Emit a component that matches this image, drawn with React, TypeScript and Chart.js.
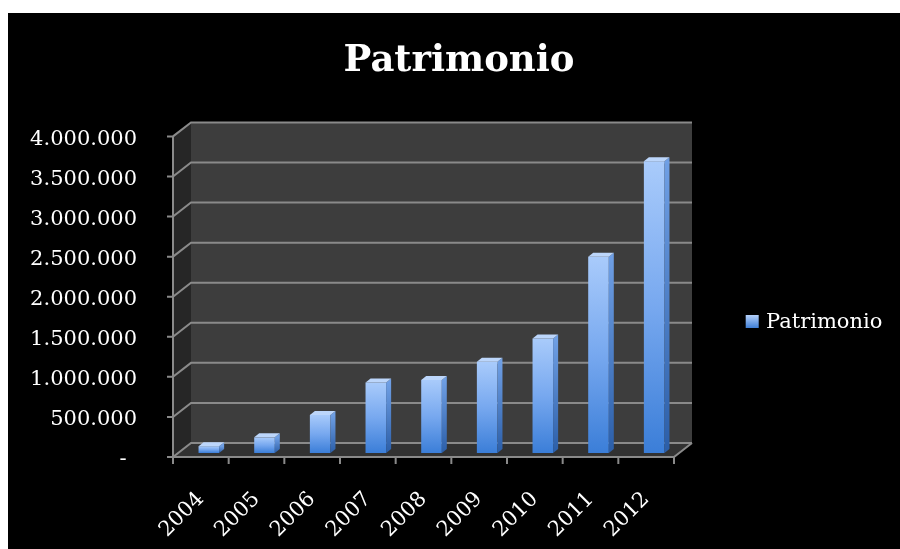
import React, { useEffect, useRef } from 'react';
import { Chart, registerables } from 'chart.js';

Chart.register(...registerables);

// ---- data ----
const years = ['2004', '2005', '2006', '2007', '2008', '2009', '2010', '2011', '2012'];
const patrimonio = [85000, 195000, 475000, 880000, 910000, 1140000, 1430000, 2450000, 3640000];
const seriesLabel = 'Patrimonio';
const chartTitle = 'Patrimonio';
const yMin = 0;
const yMax = 4000000;
const yStep = 500000;

// ---- styling ----
const FONT = 'DejaVu Serif';
const DX = 18; // depth of plot box
const DY = 14;
const SHIFT_X = 8; // bars sit inside the box depth
const SHIFT_Y = -4;
const BDX = 5; // bar depth
const BDY = 4;

const fmt = (v: number) => {
  if (v === 0) return '-\u2002';
  return String(v).replace(/\B(?=(\d{3})+(?!\d))/g, '.');
};

function poly(ctx: CanvasRenderingContext2D, pts: number[][], fill: any) {
  ctx.beginPath();
  ctx.moveTo(pts[0][0], pts[0][1]);
  for (let i = 1; i < pts.length; i++) ctx.lineTo(pts[i][0], pts[i][1]);
  ctx.closePath();
  ctx.fillStyle = fill;
  ctx.fill();
}

const box3d = {
  id: 'box3d',
  beforeDatasetsDraw(chart: any) {
    const { ctx, chartArea: a, scales } = chart;
    const ys = scales.y;
    const xs = scales.x;
    const L = a.left, R = a.right, T = a.top, B = a.bottom;
    ctx.save();
    // side wall
    poly(ctx, [[L, T], [L + DX, T - DY], [L + DX, B - DY], [L, B]], '#262626');
    // back wall
    poly(ctx, [[L + DX, T - DY], [R + DX, T - DY], [R + DX, B - DY], [L + DX, B - DY]], '#3d3d3d');
    // floor
    poly(ctx, [[L, B], [R, B], [R + DX, B - DY], [L + DX, B - DY]], '#323232');

    ctx.strokeStyle = '#8a8a8a';
    ctx.lineWidth = 2;
    ctx.lineCap = 'butt';
    ys.ticks.forEach((t: any) => {
      const py = ys.getPixelForValue(t.value);
      ctx.beginPath();
      ctx.moveTo(L - 6, py);
      ctx.lineTo(L, py);
      ctx.lineTo(L + DX, py - DY);
      ctx.lineTo(R + DX, py - DY);
      ctx.stroke();
    });
    // front axes
    ctx.beginPath();
    ctx.moveTo(L, T);
    ctx.lineTo(L, B);
    ctx.lineTo(R, B);
    ctx.lineTo(R + DX, B - DY);
    ctx.stroke();
    // category boundary ticks
    for (let i = 0; i <= years.length; i++) {
      const px = xs.getPixelForValue(i - 0.5);
      ctx.beginPath();
      ctx.moveTo(px, B);
      ctx.lineTo(px, B + 7);
      ctx.stroke();
    }
    ctx.restore();
    ctx.save();
    ctx.translate(SHIFT_X, SHIFT_Y);
  },
  afterDatasetsDraw(chart: any) {
    const { ctx } = chart;
    const meta = chart.getDatasetMeta(0);
    meta.data.forEach((el: any) => {
      const { x, y, base, width } = el.getProps(['x', 'y', 'base', 'width'], true);
      const x0 = x - width / 2;
      const x1 = x + width / 2;
      const sg = ctx.createLinearGradient(0, y, 0, base);
      sg.addColorStop(0, '#6f9fe4');
      sg.addColorStop(1, '#2b5ea8');
      poly(ctx, [[x1, y], [x1 + BDX, y - BDY], [x1 + BDX, base - BDY], [x1, base]], sg);
      poly(ctx, [[x0, y], [x1, y], [x1 + BDX, y - BDY], [x0 + BDX, y - BDY]], '#bcd6fb');
    });
    ctx.restore();

    // legend
    const lx = 737.7;
    const ly = 302;
    const g = ctx.createLinearGradient(0, ly, 0, ly + 13);
    g.addColorStop(0, '#b4d0fa');
    g.addColorStop(1, '#3f7fd6');
    ctx.save();
    ctx.fillStyle = g;
    ctx.fillRect(lx, ly, 13, 13);
    ctx.fillStyle = '#ffffff';
    ctx.font = `21px "${FONT}"`;
    ctx.textAlign = 'left';
    ctx.textBaseline = 'alphabetic';
    ctx.fillText(chart.data.datasets[0].label, 758, 315);
    ctx.restore();
  },
};

export default function App() {
  const ref = useRef<HTMLCanvasElement | null>(null);

  useEffect(() => {
    const canvas = ref.current;
    if (!canvas) return;
    const chart = new Chart(canvas, {
      type: 'bar',
      data: {
        labels: years,
        datasets: [
          {
            label: seriesLabel,
            data: patrimonio,
            clip: false as any,
            categoryPercentage: 1,
            barPercentage: 0.37,
            backgroundColor: (c: any) => {
              const ch = c.chart;
              if (!ch.chartArea || c.raw === undefined) return '#5b94e4';
              const yTop = ch.scales.y.getPixelForValue(c.raw);
              const yBase = ch.scales.y.getPixelForValue(0);
              const g = ch.ctx.createLinearGradient(0, yTop, 0, yBase + 0.01);
              g.addColorStop(0, '#a9cbfb');
              g.addColorStop(0.5, '#77a8ef');
              g.addColorStop(1, '#3b7ed8');
              return g;
            },
            borderWidth: 0,
          },
        ],
      },
      options: {
        responsive: false,
        animation: false,
        events: [],
        layout: { padding: { left: 10, right: 0, top: 0, bottom: 0 } },
        plugins: {
          legend: { display: false },
          tooltip: { enabled: false },
          title: {
            display: true,
            text: chartTitle,
            color: '#ffffff',
            font: { family: FONT, size: 37, weight: 'bold' },
            padding: { top: 26, bottom: 53 },
          },
        },
        scales: {
          x: {
            grid: { display: false },
            border: { display: false },
            ticks: {
              color: '#ffffff',
              font: { family: FONT, size: 21 },
              maxRotation: 45,
              minRotation: 45,
              autoSkip: false,
              padding: 22,
            },
            afterFit: (s: any) => {
              s.height = 92;
            },
          },
          y: {
            min: yMin,
            max: yMax,
            grid: { display: false },
            border: { display: false },
            ticks: {
              stepSize: yStep,
              color: '#ffffff',
              font: { family: FONT, size: 21 },
              padding: 28,
              labelOffset: 3,
              callback: (v: any) => fmt(Number(v)),
            },
            afterFit: (s: any) => {
              s.width = 155;
            },
          },
          y2: {
            position: 'right',
            display: true,
            grid: { display: false },
            border: { display: false },
            ticks: { display: false },
            afterFit: (s: any) => {
              s.width = 226;
            },
          },
        },
      } as any,
      plugins: [box3d],
    });
    return () => chart.destroy();
  }, []);

  return (
    <div
      style={{
        position: 'fixed',
        left: 8,
        top: 13,
        width: 892,
        height: 536,
        background: '#000000',
      }}
    >
      <canvas ref={ref} width={892} height={536} style={{ display: 'block' }} />
    </div>
  );
}
